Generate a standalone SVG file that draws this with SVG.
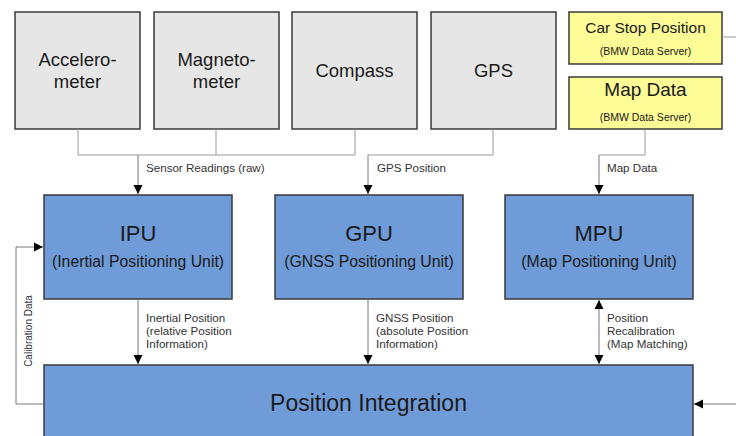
<svg xmlns="http://www.w3.org/2000/svg" width="736" height="436" viewBox="0 0 736 436">
<defs>
<marker id="ah" markerWidth="10" markerHeight="10" refX="9" refY="5" orient="auto" markerUnits="userSpaceOnUse">
<path d="M0,0.5 L9,5 L0,9.5 Z" fill="#000"/>
</marker>
<marker id="ahs" markerWidth="10" markerHeight="10" refX="9" refY="5" orient="auto-start-reverse" markerUnits="userSpaceOnUse">
<path d="M0,0.5 L9,5 L0,9.5 Z" fill="#000"/>
</marker>
</defs>
<style>
text{font-family:"Liberation Sans",Arial,sans-serif;fill:#1a1a1a}
.sensor{fill:#e6e6e6;stroke:#3a3a3a;stroke-width:1.5}
.unit{fill:#6f9bd8;stroke:#3a3a3a;stroke-width:1.5}
.data{fill:#fdfb96;stroke:#3a3a3a;stroke-width:1.5}
.big{font-size:18.5px;text-anchor:middle}
.title{font-size:22px;text-anchor:middle}
.sub{font-size:15.8px;text-anchor:middle}
.ysub{font-size:10.5px;text-anchor:middle}
.lbl{font-size:11.6px;fill:#333}
.ln{fill:none;stroke:#9a9a9a;stroke-width:1}
.arr{fill:none;stroke:#7a7a7a;stroke-width:1;marker-end:url(#ah)}
</style>
<rect width="736" height="436" fill="#fff"/>
<g id="accelerometer">
<rect class="sensor" x="15" y="12" width="125" height="117"/>
<text class="big" x="77.5" y="66">Accelero-</text>
<text class="big" x="77.5" y="88">meter</text>
</g>
<g id="magnetometer">
<rect class="sensor" x="154" y="12" width="125" height="117"/>
<text class="big" x="216.5" y="66">Magneto-</text>
<text class="big" x="216.5" y="88">meter</text>
</g>
<g id="compass">
<rect class="sensor" x="292" y="12" width="125" height="117"/>
<text class="big" x="354.5" y="77">Compass</text>
</g>
<g id="gps">
<rect class="sensor" x="431" y="12" width="125" height="117"/>
<text class="big" x="493.5" y="77">GPS</text>
</g>
<g id="carstop">
<rect class="data" x="569" y="12" width="153" height="52"/>
<text x="645.5" y="33" style="font-size:15.5px;text-anchor:middle">Car Stop Position</text>
<text class="ysub" x="645.5" y="55">(BMW Data Server)</text>
</g>
<g id="mapdata">
<rect class="data" x="569" y="77" width="153" height="52"/>
<text x="645.5" y="96" style="font-size:19px;text-anchor:middle">Map Data</text>
<text class="ysub" x="645.5" y="121">(BMW Data Server)</text>
</g>
<g id="ipu">
<rect class="unit" x="44" y="195" width="188" height="104"/>
<text class="title" x="138" y="241">IPU</text>
<text class="sub" x="138" y="267">(Inertial Positioning Unit)</text>
</g>
<g id="gpu">
<rect class="unit" x="275" y="195" width="188" height="104"/>
<text class="title" x="369" y="241">GPU</text>
<text class="sub" x="369" y="267">(GNSS Positioning Unit)</text>
</g>
<g id="mpu">
<rect class="unit" x="505" y="195" width="188" height="104"/>
<text class="title" x="599" y="241">MPU</text>
<text class="sub" x="599" y="267">(Map Positioning Unit)</text>
</g>
<g id="integration">
<rect class="unit" x="44" y="365" width="649" height="80"/>
<text x="368.5" y="411" style="font-size:23px;text-anchor:middle">Position Integration</text>
</g>
<g id="connectors">
<path class="ln" d="M78,129 V155 H355 V129 M216,129 V155"/>
<path class="arr" d="M138,155 V194"/>
<path class="ln" d="M493,129 V155 H368"/>
<path class="arr" d="M368,155 V194"/>
<path class="ln" d="M645,129 V155 H599"/>
<path class="arr" d="M599,155 V194"/>
<path class="ln" d="M722,37 H736"/>
<path class="arr" d="M138,299 V364"/>
<path class="arr" d="M368,299 V364"/>
<path class="arr" d="M599,300 V364" style="marker-start:url(#ahs)"/>
<path class="arr" d="M44,404 H16 V247 H43"/>
<path class="arr" d="M736,404 H694"/>
<text class="lbl" x="146" y="172">Sensor Readings (raw)</text>
<text class="lbl" x="377" y="172">GPS Position</text>
<text class="lbl" x="607" y="172">Map Data</text>
<text class="lbl" x="146" y="322">Inertial Position</text>
<text class="lbl" x="146" y="335">(relative Position</text>
<text class="lbl" x="146" y="348">Information)</text>
<text class="lbl" x="376" y="322">GNSS Position</text>
<text class="lbl" x="376" y="335">(absolute Position</text>
<text class="lbl" x="376" y="348">Information)</text>
<text class="lbl" x="607" y="322">Position</text>
<text class="lbl" x="607" y="335">Recalibration</text>
<text class="lbl" x="607" y="348">(Map Matching)</text>
<text class="lbl" style="font-size:10px;text-anchor:middle" transform="translate(32,331) rotate(-90)">Calibration Data</text>
</g>
</svg>
